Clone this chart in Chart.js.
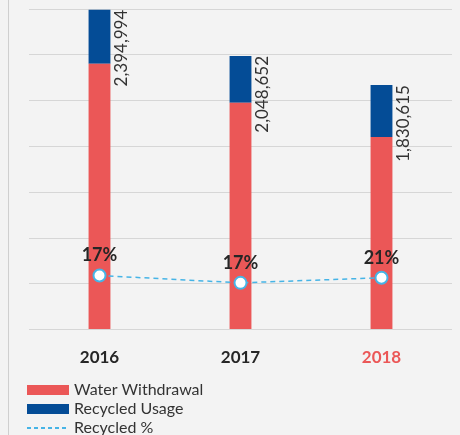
<!DOCTYPE html>
<html>
<head>
<meta charset="utf-8">
<script src="https://cdn.jsdelivr.net/npm/chart.js@4/dist/chart.umd.min.js"></script>
<style>
  html, body { margin: 0; padding: 0; background: #f3f3f3; }
  #wrap { position: relative; width: 460px; height: 435px; }
  #wrap::before { content: ""; position: absolute; left: 8px; top: 0; bottom: 0; border-left: 1px solid #cfcfcf; }
</style>
</head>
<body>
<div id="wrap"><canvas id="grafAgua" width="460" height="435"></canvas></div>
<script>
// datos por año
const anios = ['2016', '2017', '2018'];
const extraccion = [1989994, 1698652, 1442615];
const reciclada = [405000, 350000, 388000];
const totales = [2394994, 2048652, 1830615];

const rojo = '#eb5757';
const azul = '#044c96';
const celeste = '#46b4e6';
const fuente = 'Lato, "Open Sans", sans-serif';

// etiquetas: total girado junto a cada barra y % sobre cada punto
const etiquetas = {
  id: 'etiquetas',
  afterDatasetsDraw(chart) {
    const ctx = chart.ctx;
    const barras = chart.getDatasetMeta(1).data;
    const puntos = chart.getDatasetMeta(2).data;
    ctx.save();
    ctx.fillStyle = '#333';
    barras.forEach((b, i) => {
      ctx.save();
      ctx.translate(b.x + b.width / 2 + 11, b.y);
      ctx.rotate(-Math.PI / 2);
      ctx.font = '17px ' + fuente;
      ctx.textAlign = 'right';
      ctx.textBaseline = 'middle';
      ctx.fillText(totales[i].toLocaleString('en-US'), 0, 0);
      ctx.restore();
    });
    ctx.font = 'bold 18px ' + fuente;
    ctx.textAlign = 'center';
    ctx.textBaseline = 'middle';
    ctx.fillStyle = '#262626';
    puntos.forEach((p, i) => {
      const pct = Math.round(reciclada[i] / totales[i] * 100);
      ctx.fillText(pct + '%', p.x, p.y - 20);
    });
    ctx.restore();
  },
  afterDraw(chart) {
    const ctx = chart.ctx;
    ctx.save();
    ctx.font = '16px ' + fuente;
    ctx.textBaseline = 'middle';
    chart.data.datasets.forEach((ds, i) => {
      const y = 390 + i * 19;
      if (ds.type === 'line') {
        ctx.strokeStyle = celeste;
        ctx.lineWidth = 2;
        ctx.setLineDash([4, 3]);
        ctx.beginPath();
        ctx.moveTo(27, y);
        ctx.lineTo(69, y);
        ctx.stroke();
        ctx.setLineDash([]);
      } else {
        ctx.fillStyle = ds.backgroundColor;
        ctx.fillRect(27, y - 5, 42, 10);
      }
      ctx.fillStyle = '#333';
      ctx.fillText(ds.label, 74, y);
    });
    ctx.restore();
  }
};

new Chart(document.getElementById('grafAgua'), {
  type: 'bar',
  data: {
    labels: anios,
    datasets: [
      { label: 'Water Withdrawal', data: extraccion, backgroundColor: rojo, order: 2 },
      { label: 'Recycled Usage', data: reciclada, backgroundColor: azul, order: 2 },
      {
        type: 'line', label: 'Recycled %', data: reciclada, order: 1,
        borderColor: celeste, borderWidth: 1.5, borderDash: [5, 4],
        pointRadius: 6, pointBorderWidth: 2, pointBackgroundColor: '#fff',
        pointBorderColor: celeste, fill: false, stack: 'linea'
      }
    ]
  },
  options: {
    responsive: false,
    animation: false,
    layout: { padding: { left: 29, right: 2, top: 9, bottom: 57 } },
    datasets: { bar: { categoryPercentage: 1, barPercentage: 0.155 } },
    plugins: { legend: { display: false }, tooltip: { enabled: false } },
    scales: {
      x: {
        stacked: true,
        grid: { display: false },
        border: { display: false },
        ticks: {
          padding: 10,
          font: { family: fuente, size: 17, weight: 'bold' },
          color: (c) => c.index === 2 ? rojo : '#262626'
        }
      },
      y: {
        stacked: true,
        min: 0,
        max: 2400000,
        border: { display: false },
        grid: { color: '#d6d6d6', lineWidth: 1, drawTicks: false },
        ticks: { display: false, count: 8 }
      }
    }
  },
  plugins: [etiquetas]
});
</script>
</body>
</html>
